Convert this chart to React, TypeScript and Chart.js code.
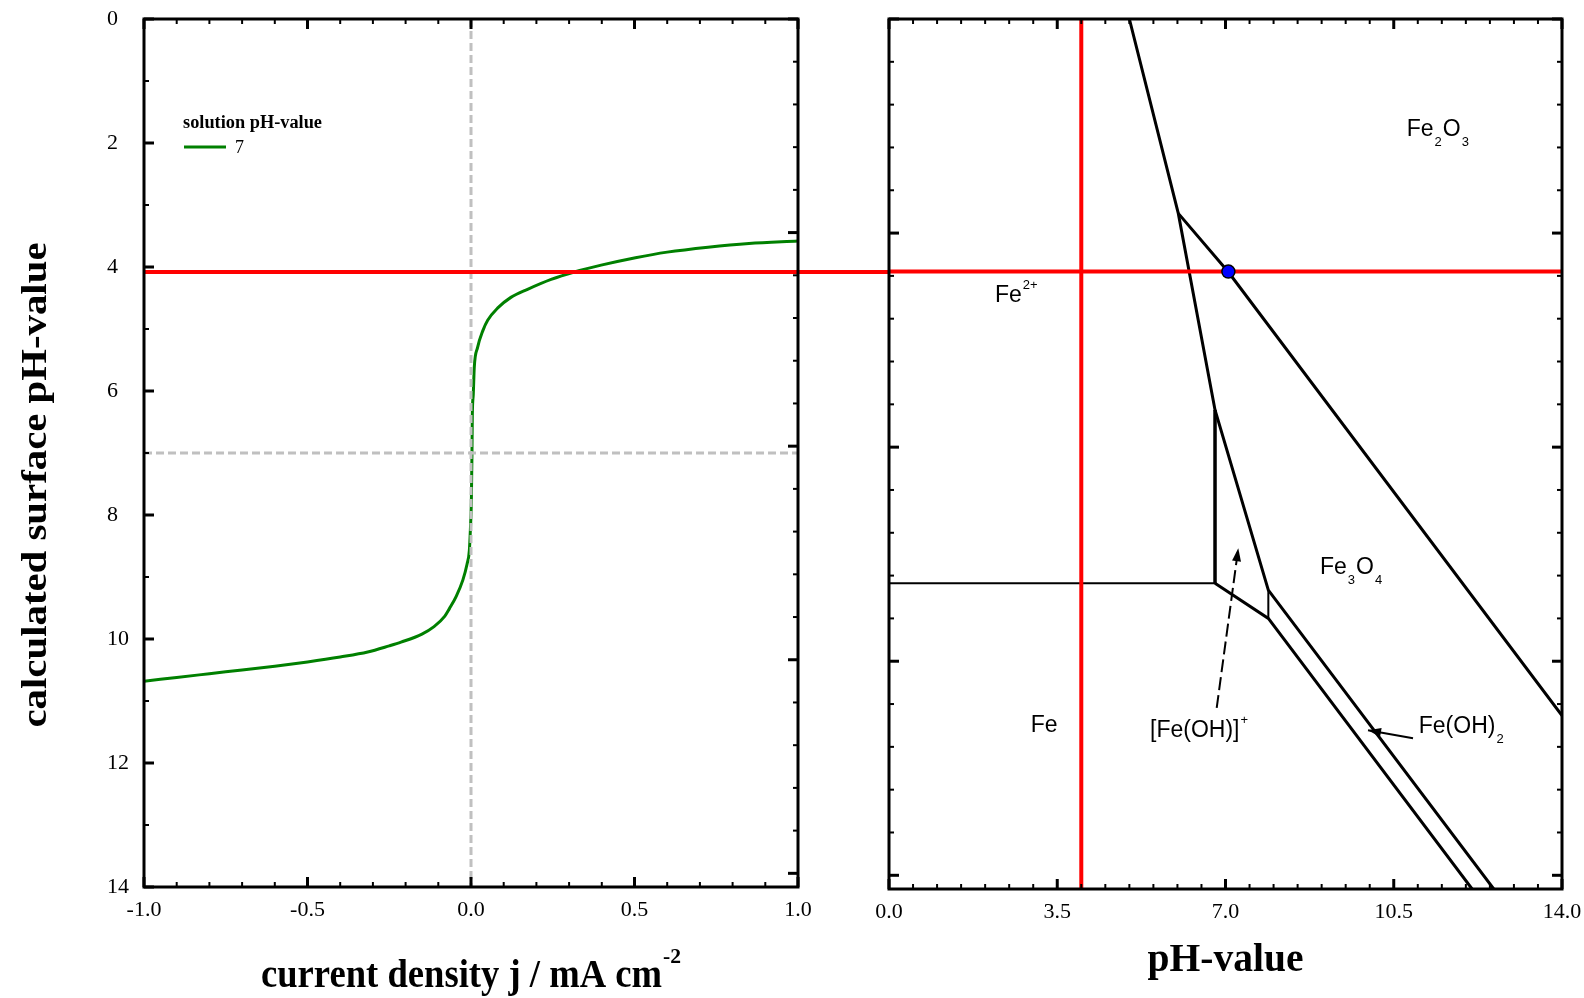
import React, { useEffect, useRef } from "react";
import { Chart, registerables } from "chart.js";

Chart.register(...registerables);

// ---------------- Left panel data ----------------
const currentDensity = [-1.0, -0.9, -0.8, -0.7, -0.6, -0.5, -0.4, -0.316, -0.25, -0.214, -0.15, -0.113, -0.08, -0.066, -0.046, -0.025, -0.012, -0.005, -0.002, 0.001, 0.003, 0.004, 0.007, 0.01, 0.02, 0.036, 0.051, 0.082, 0.122, 0.173, 0.245, 0.316, 0.398, 0.503, 0.6, 0.725, 0.85, 1.0];
const surfacePH = [10.68, 10.62, 10.56, 10.5, 10.44, 10.37, 10.29, 10.21, 10.11, 10.05, 9.92, 9.8, 9.63, 9.51, 9.32, 9.05, 8.79, 8.57, 8.25, 7.8, 7.0, 6.4, 6.05, 5.62, 5.3, 5.03, 4.86, 4.66, 4.49, 4.36, 4.2, 4.08, 3.97, 3.85, 3.76, 3.68, 3.62, 3.58];
const solutionPH = 7;
const legendTitle = "solution pH-value";
const redSurfacePH = 4.08;
const redLineJ = [-1.0, 1.28];
const zeroLineJ = [0, 0];
const zeroLinePH = [0, 14];
const solutionLineJ = [-1, 1];

// ---------------- Right panel (Pourbaix) data ----------------
const fe2PlusUpperPH = [5.0, 6.018, 6.782, 7.891, 12.58];
const fe2PlusUpperE = [1.0, 0.546, 0.087, -0.334, -1.032];
const fe2O3Fe3O4PH = [6.018, 7.059, 14.0];
const fe2O3Fe3O4E = [0.546, 0.409, -0.627];
const feFe2PlusPH = [0, 6.782];
const feFe2PlusE = [-0.318, -0.318];
const feOHPlusLeftPH = [6.782, 6.782];
const feOHPlusLeftE = [0.087, -0.318];
const feLowerPH = [6.782, 7.891, 12.13];
const feLowerE = [-0.318, -0.4, -1.032];
const feOHSmallPH = [7.891, 7.891];
const feOHSmallE = [-0.334, -0.4];
const arrowFeOHPlusPH = [6.817, 7.266];
const arrowFeOHPlusE = [-0.609, -0.236];
const arrowFeOH2PH = [10.901, 9.965];
const arrowFeOH2E = [-0.68, -0.661];
const markerPH = [7.06];
const markerE = [0.41];
const redPHValue = 4.0;
const redPotential = 0.41;

type Seg = { t: string; k?: "sub" | "sup" };
const regionLabels: { segs: Seg[]; pH: number; E: number }[] = [
  { segs: [{ t: "Fe" }, { t: "2", k: "sub" }, { t: "O" }, { t: "3", k: "sub" }], pH: 10.77, E: 0.727 },
  { segs: [{ t: "Fe" }, { t: "2+", k: "sup" }], pH: 2.205, E: 0.339 },
  { segs: [{ t: "Fe" }, { t: "3", k: "sub" }, { t: "O" }, { t: "4", k: "sub" }], pH: 8.966, E: -0.296 },
  { segs: [{ t: "Fe" }], pH: 2.948, E: -0.665 },
  { segs: [{ t: "[Fe(OH)]" }, { t: "+", k: "sup" }], pH: 5.43, E: -0.677 },
  { segs: [{ t: "Fe(OH)" }, { t: "2", k: "sub" }], pH: 11.02, E: -0.668 },
];

const SERIF = '"Liberation Serif", "Times New Roman", serif';
const SANS = '"Liberation Sans", Arial, sans-serif';

function range(start: number, end: number, step: number): number[] {
  const out: number[] = [];
  const n = Math.round((end - start) / step);
  for (let i = 0; i <= n; i++) out.push(+(start + i * step).toFixed(6));
  return out;
}
const isMult = (v: number, m: number) => Math.abs(v / m - Math.round(v / m)) < 1e-6;

function drawTicks(ctx: CanvasRenderingContext2D, scale: any, values: number[], a: any, side: string, majorStep: number) {
  for (const v of values) {
    const major = isMult(v, majorStep);
    const len = major ? 10 : 5;
    ctx.lineWidth = major ? 3 : 2;
    const p = scale.getPixelForValue(v);
    ctx.beginPath();
    if (side === "left") { ctx.moveTo(a.left, p); ctx.lineTo(a.left + len, p); }
    if (side === "right") { ctx.moveTo(a.right, p); ctx.lineTo(a.right - len, p); }
    if (side === "top") { ctx.moveTo(p, a.top); ctx.lineTo(p, a.top + len); }
    if (side === "bottom") { ctx.moveTo(p, a.bottom); ctx.lineTo(p, a.bottom - len); }
    ctx.stroke();
  }
}

function fitText(ctx: CanvasRenderingContext2D, text: string, x: number, y: number, width: number, align: CanvasTextAlign) {
  const w = ctx.measureText(text).width;
  ctx.save();
  ctx.translate(x, y);
  ctx.scale(width / w, 1);
  ctx.textAlign = align;
  ctx.fillText(text, 0, 0);
  ctx.restore();
}

function drawRich(ctx: CanvasRenderingContext2D, x: number, y: number, segs: Seg[]) {
  let cx = x;
  ctx.textAlign = "left";
  ctx.textBaseline = "alphabetic";
  for (const s of segs) {
    if (!s.k) {
      ctx.font = `23px ${SANS}`;
      ctx.fillText(s.t, cx, y);
      cx += ctx.measureText(s.t).width;
    } else {
      ctx.font = `13px ${SANS}`;
      const dy = s.k === "sub" ? 10 : -13;
      ctx.fillText(s.t, cx + 1, y + dy);
      cx += ctx.measureText(s.t).width + 2;
    }
  }
}

function arrowHead(ctx: CanvasRenderingContext2D, fx: number, fy: number, tx: number, ty: number) {
  const ang = Math.atan2(ty - fy, tx - fx);
  const L = 13, W = 4.5;
  ctx.beginPath();
  ctx.moveTo(tx, ty);
  ctx.lineTo(tx - L * Math.cos(ang) + W * Math.sin(ang), ty - L * Math.sin(ang) - W * Math.cos(ang));
  ctx.lineTo(tx - L * Math.cos(ang) - W * Math.sin(ang), ty - L * Math.sin(ang) + W * Math.cos(ang));
  ctx.closePath();
  ctx.fill();
}

const leftDecor = {
  id: "leftDecor",
  afterDraw(chart: any) {
    const { ctx, chartArea: a, scales } = chart;
    ctx.save();
    ctx.strokeStyle = "#000";
    ctx.fillStyle = "#000";
    drawTicks(ctx, scales.y, range(0, 14, 1), a, "left", 2);
    drawTicks(ctx, scales.yE, range(-1, 1, 0.1), a, "right", 0.5);
    drawTicks(ctx, scales.x, range(-1, 1, 0.1), a, "top", 0.5);
    drawTicks(ctx, scales.x, range(-1, 1, 0.1), a, "bottom", 0.5);
    ctx.lineWidth = 3;
    ctx.strokeRect(a.left, a.top, a.right - a.left, a.bottom - a.top);

    // legend
    ctx.textBaseline = "alphabetic";
    ctx.font = `bold 18px ${SERIF}`;
    fitText(ctx, legendTitle, 183, 128, 139, "left");
    ctx.strokeStyle = "#008000";
    ctx.lineWidth = 3;
    ctx.beginPath();
    ctx.moveTo(184, 147);
    ctx.lineTo(226, 147);
    ctx.stroke();
    ctx.font = `18px ${SERIF}`;
    ctx.textAlign = "left";
    ctx.fillText(String(solutionPH), 235, 153);

    // y title
    ctx.save();
    ctx.translate(46, 485);
    ctx.rotate(-Math.PI / 2);
    ctx.font = `bold 36px ${SERIF}`;
    fitText(ctx, "calculated surface pH-value", 0, 0, 485, "center");
    ctx.restore();

    // x title
    ctx.font = `bold 40px ${SERIF}`;
    fitText(ctx, "current density j / mA cm", 261, 987, 401, "left");
    ctx.font = `bold 21px ${SERIF}`;
    fitText(ctx, "-2", 663, 963, 18, "left");
    ctx.restore();
  },
};

const rightDecor = {
  id: "rightDecor",
  afterDraw(chart: any) {
    const { ctx, chartArea: a, scales } = chart;
    const x = scales.x, y = scales.y;
    ctx.save();
    ctx.strokeStyle = "#000";
    ctx.fillStyle = "#000";
    drawTicks(ctx, y, range(-1, 1, 0.1), a, "left", 0.5);
    drawTicks(ctx, y, range(-1, 1, 0.1), a, "right", 0.5);
    drawTicks(ctx, x, range(0, 14, 0.5), a, "top", 3.5);
    drawTicks(ctx, x, range(0, 14, 0.5), a, "bottom", 3.5);
    ctx.lineWidth = 3;
    ctx.strokeRect(a.left, a.top, a.right - a.left, a.bottom - a.top);

    // arrow heads
    const n1 = arrowFeOHPlusPH.length - 1;
    arrowHead(ctx, x.getPixelForValue(arrowFeOHPlusPH[0]), y.getPixelForValue(arrowFeOHPlusE[0]), x.getPixelForValue(arrowFeOHPlusPH[n1]), y.getPixelForValue(arrowFeOHPlusE[n1]));
    const n2 = arrowFeOH2PH.length - 1;
    arrowHead(ctx, x.getPixelForValue(arrowFeOH2PH[0]), y.getPixelForValue(arrowFeOH2E[0]), x.getPixelForValue(arrowFeOH2PH[n2]), y.getPixelForValue(arrowFeOH2E[n2]));

    for (const l of regionLabels) {
      drawRich(ctx, x.getPixelForValue(l.pH), y.getPixelForValue(l.E), l.segs);
    }

    ctx.font = `bold 40px ${SERIF}`;
    ctx.textBaseline = "alphabetic";
    fitText(ctx, "pH-value", x.getPixelForValue(7), 971, 156, "center");
    ctx.restore();
  },
};

const tickFont = { family: SERIF, size: 22 };

function line(xs: number[], ys: number[], color: string, width: number, extra: any = {}) {
  return {
    data: xs.map((v, i) => ({ x: v, y: ys[i] })),
    showLine: true,
    borderColor: color,
    backgroundColor: color,
    borderWidth: width,
    pointRadius: 0,
    ...extra,
  };
}

export default function App() {
  const leftRef = useRef<HTMLCanvasElement>(null);
  const rightRef = useRef<HTMLCanvasElement>(null);

  useEffect(() => {
    const common = {
      responsive: false,
      animation: false as const,
      devicePixelRatio: 1,
      events: [] as any[],
      plugins: { legend: { display: false }, tooltip: { enabled: false } },
    };

    const left = new Chart(leftRef.current!, {
      type: "scatter",
      data: {
        datasets: [
          line(redLineJ, redLineJ.map(() => redSurfacePH), "#ff0000", 4, { clip: false }),
          line(zeroLineJ, zeroLinePH, "#c0c0c0", 3, { borderDash: [8, 4] }),
          line(solutionLineJ, solutionLineJ.map(() => solutionPH), "#c0c0c0", 3, { borderDash: [8, 4] }),
          line(currentDensity, surfacePH, "#008000", 3, { cubicInterpolationMode: "monotone", label: String(solutionPH) }),
        ] as any,
      },
      options: {
        ...common,
        layout: { padding: { left: 107, top: 19, right: 0, bottom: 0 } },
        scales: {
          x: {
            type: "linear",
            position: "bottom",
            min: -1,
            max: 1,
            ticks: { stepSize: 0.5, callback: (v: any) => Number(v).toFixed(1), font: tickFont, color: "#000", padding: 10, maxRotation: 0, autoSkip: false },
            grid: { display: false, drawTicks: false },
            border: { display: false },
            afterFit: (s: any) => { s.height = 111; s.paddingLeft = 0; s.paddingRight = 0; },
          },
          y: {
            type: "linear",
            position: "left",
            reverse: true,
            min: 0,
            max: 14,
            ticks: { stepSize: 2, crossAlign: "far", font: tickFont, color: "#000", padding: 0 },
            grid: { display: false, drawTicks: false },
            border: { display: false },
            afterFit: (s: any) => { s.width = 37; s.paddingTop = 0; s.paddingBottom = 0; },
          },
          yE: {
            type: "linear",
            position: "right",
            min: -1.032,
            max: 1.0,
            ticks: { display: false },
            grid: { display: false, drawTicks: false },
            border: { display: false },
            afterFit: (s: any) => { s.width = 102; },
          },
        },
      } as any,
      plugins: [leftDecor],
    });

    const right = new Chart(rightRef.current!, {
      type: "scatter",
      data: {
        datasets: [
          line(markerPH, markerE, "#0000ff", 0, { showLine: false, pointRadius: 6.5, pointBackgroundColor: "#0000ff", pointBorderColor: "#000", pointBorderWidth: 1.5 }),
          line([0, 14], [redPotential, redPotential], "#ff0000", 4),
          line([redPHValue, redPHValue], [-1.032, 1.0], "#ff0000", 4),
          line(fe2PlusUpperPH, fe2PlusUpperE, "#000", 3),
          line(fe2O3Fe3O4PH, fe2O3Fe3O4E, "#000", 3),
          line(feFe2PlusPH, feFe2PlusE, "#000", 2),
          line(feOHPlusLeftPH, feOHPlusLeftE, "#000", 3.5),
          line(feLowerPH, feLowerE, "#000", 3),
          line(feOHSmallPH, feOHSmallE, "#000", 2),
          line(arrowFeOHPlusPH, arrowFeOHPlusE, "#000", 2, { borderDash: [13, 5] }),
          line(arrowFeOH2PH, arrowFeOH2E, "#000", 2),
        ] as any,
      },
      options: {
        ...common,
        layout: { padding: { left: 0, top: 19, right: 22, bottom: 0 } },
        scales: {
          x: {
            type: "linear",
            position: "bottom",
            min: 0,
            max: 14,
            ticks: { stepSize: 3.5, callback: (v: any) => Number(v).toFixed(1), font: tickFont, color: "#000", padding: 10, maxRotation: 0, autoSkip: false },
            grid: { display: false, drawTicks: false },
            border: { display: false },
            afterFit: (s: any) => { s.height = 109; s.paddingLeft = 0; s.paddingRight = 0; },
          },
          y: {
            type: "linear",
            position: "left",
            min: -1.032,
            max: 1.0,
            ticks: { display: false },
            grid: { display: false, drawTicks: false },
            border: { display: false },
            afterFit: (s: any) => { s.width = 29; },
          },
        },
      } as any,
      plugins: [rightDecor],
    });

    return () => {
      left.destroy();
      right.destroy();
    };
  }, []);

  return (
    <div style={{ position: "absolute", left: 0, top: 0, width: 1584, height: 998, background: "#fff", overflow: "hidden" }}>
      <canvas ref={leftRef} width={900} height={998} style={{ position: "absolute", left: 0, top: 0, width: 900, height: 998 }} />
      <canvas ref={rightRef} width={724} height={998} style={{ position: "absolute", left: 860, top: 0, width: 724, height: 998 }} />
    </div>
  );
}
